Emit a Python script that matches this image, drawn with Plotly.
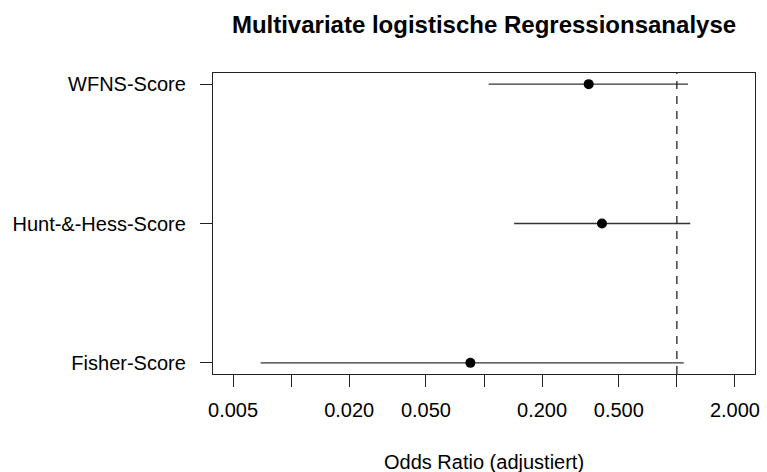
import math
import plotly.graph_objects as go

# Data
categories = ["Fisher-Score", "Hunt-&-Hess-Score", "WFNS-Score"]
odds_ratio = [0.085, 0.409, 0.349]
ci_lower = [0.00695, 0.1433, 0.1057]
ci_upper = [1.086, 1.173, 1.142]
tick_values = [0.005, 0.01, 0.02, 0.05, 0.1, 0.2, 0.5, 1, 2]
tick_labels = ["0.005", "", "0.020", "0.050", "", "0.200", "0.500", "", "2.000"]
x_limits = [0.005, 2.0]
reference_value = 1.0

ypos = list(range(1, len(categories) + 1))
err_plus = [u - m for u, m in zip(ci_upper, odds_ratio)]
err_minus = [m - l for m, l in zip(odds_ratio, ci_lower)]

FONT = "Liberation Sans, Arial, Helvetica, sans-serif"

fig = go.Figure()
fig.add_trace(go.Scatter(
    x=odds_ratio, y=ypos, mode="markers",
    marker=dict(color="black", size=10),
    error_x=dict(type="data", symmetric=False, array=err_plus, arrayminus=err_minus,
                 color="#333333", thickness=1.4, width=0),
    showlegend=False, hoverinfo="x+y",
))

lo, hi = math.log10(x_limits[0]), math.log10(x_limits[1])
ext = 0.04 * (hi - lo)
ylo, yhi = 1, len(categories)
yext = 0.04 * (yhi - ylo)

fig.add_shape(type="line", xref="x", yref="paper", x0=reference_value, x1=reference_value,
              y0=0, y1=1, line=dict(color="#222222", width=1.3, dash="8px,7px"))

fig.update_layout(
    width=767, height=472,
    margin=dict(l=213, r=7, t=73, b=98),
    paper_bgcolor="white", plot_bgcolor="white",
    font=dict(family=FONT, size=20, color="black"),
    title=dict(text="<b>Multivariate logistische Regressionsanalyse</b>",
               font=dict(family=FONT, size=24, color="black"),
               x=0.5, xref="paper", xanchor="center",
               y=1 - 25 / 472, yref="container", yanchor="middle"),
    xaxis=dict(type="log", range=[lo - ext, hi + ext],
               tickvals=tick_values, ticktext=tick_labels,
               showgrid=False, zeroline=False,
               showline=True, linecolor="#222222", linewidth=1.3, mirror=True,
               ticks="outside", ticklen=12, tickwidth=1.3, tickcolor="#222222",
               ticklabelstandoff=6,
               tickfont=dict(family=FONT, size=20, color="black")),
    yaxis=dict(range=[ylo - yext, yhi + yext],
               tickvals=ypos, ticktext=categories,
               showgrid=False, zeroline=False,
               showline=True, linecolor="#222222", linewidth=1.3, mirror=True,
               ticks="outside", ticklen=12, tickwidth=1.3, tickcolor="#222222",
               ticklabelstandoff=10,
               tickfont=dict(family=FONT, size=20, color="black")),
)

fig.add_annotation(text="Odds Ratio (adjustiert)", xref="paper", yref="paper",
                   x=0.5, y=(374 - 462) / 301, xanchor="center", yanchor="middle",
                   showarrow=False, font=dict(family=FONT, size=20, color="black"))

fig.write_html("out.html")
